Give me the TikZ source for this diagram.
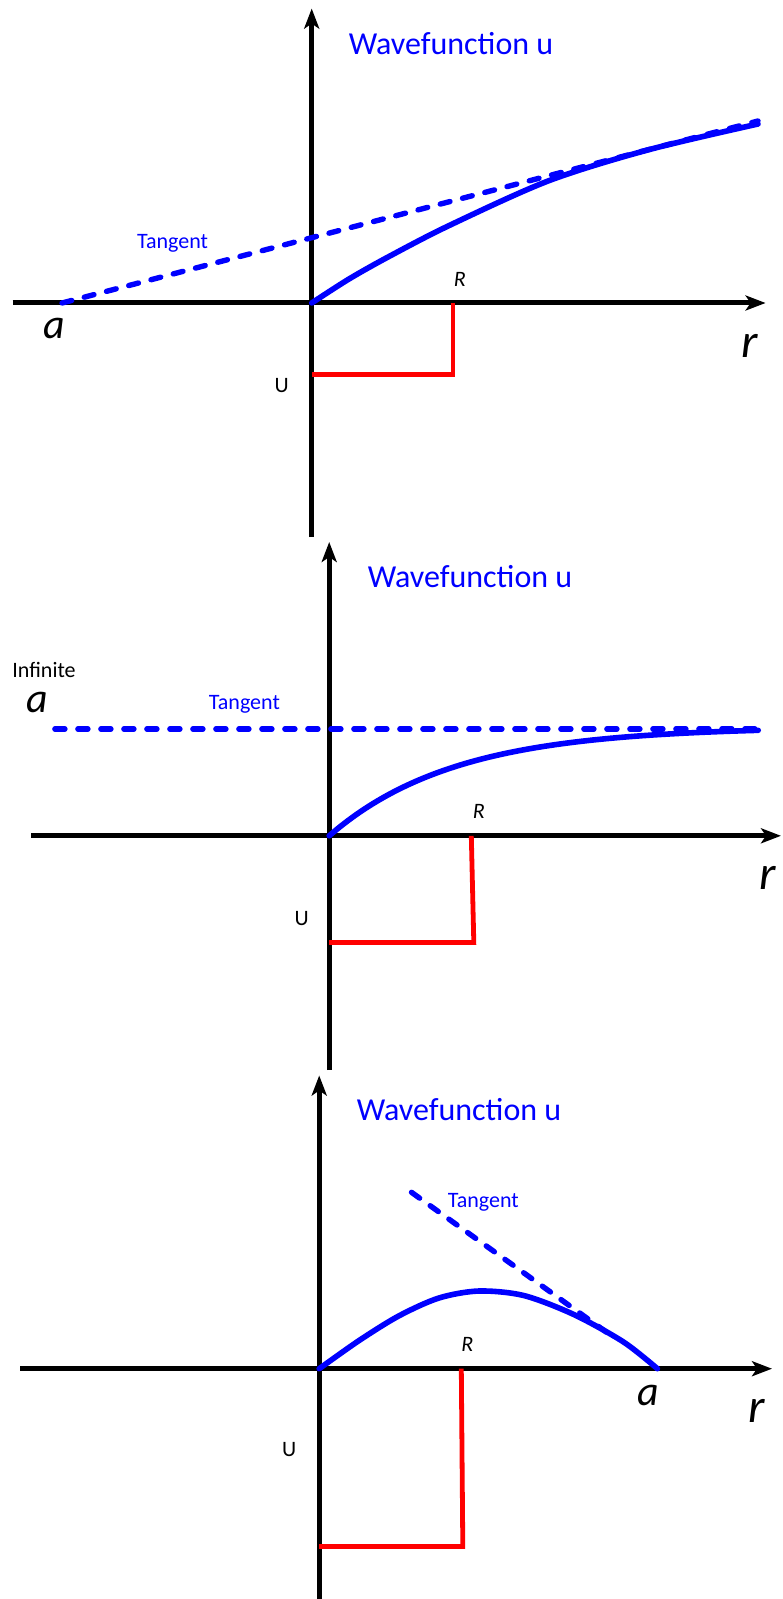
\documentclass[tikz,border=0pt]{standalone}
\usepackage{fontspec}
\setmainfont{Carlito}
\usetikzlibrary{arrows.meta}
\definecolor{ink}{gray}{0}
\definecolor{wf}{rgb}{0,0,1}
\definecolor{pot}{rgb}{1,0,0}

\begin{document}
\begin{tikzpicture}[x=0.5pt, y=-0.5pt, line width=2.4pt,
  axis/.style={ink, line width=2.5pt, -{Stealth[length=10pt,width=7.5pt,inset=2.5pt]}},
  wave/.style={wf, line width=2.8pt, line cap=round, line join=round},
  tanline/.style={wf, line width=2.7pt, line cap=round, dash pattern=on 5pt off 6.5pt},
  well/.style={pot, line width=2.4pt},
  title/.style={wf, inner sep=0pt, font=\fontsize{16}{18}\selectfont},
  small/.style={inner sep=0pt, font=\fontsize{11}{13}\selectfont},
  big/.style={ink, inner sep=0pt, font=\fontsize{21}{25}\selectfont\itshape}]
  \useasboundingbox (0,0) rectangle (782,1599);

  \foreach \n/\ox/\oy/\xl/\xr/\yt/\yb in {1/311.7/303/12.5/765.6/8.6/537, 2/329.2/835.8/31/781/542/1070, 3/319.2/1368.7/20/772/1075.5/1599}{
    \coordinate (o\n) at (\ox,\oy);
    \coordinate (xl\n) at (\xl,\oy);
    \coordinate (xr\n) at (\xr,\oy);
    \coordinate (yt\n) at (\ox,\yt);
    \coordinate (yb\n) at (\ox,\yb);
    \draw[axis] (xl\n) -- (xr\n);
    \draw[axis] (yb\n) -- (yt\n);
  }
  \foreach \n/\x/\y in {1/451/44, 2/470/576.5, 3/459/1109.8}
    \node[title] (wave\n) at (\x,\y) {Wavefunction u};

  % panel 1
  \coordinate (a1) at (62,303);
  \coordinate (t1) at (758,121);
  \draw[tanline] (a1) -- (t1);
  \draw[wave] plot[smooth] coordinates {(311.7,303) (349,279) (389,256.5) (449,225.6) (548.6,180.8) (648.4,149.8) (758,124)};
  \coordinate (rt1) at (452.9,303);
  \coordinate (rb1) at (452.9,374.7);
  \coordinate (ub1) at (311.7,374.7);
  \draw[well] (rt1) -- (rb1) -- (ub1);
  \node[small, wf] (tan1) at (172.6,243.5) {Tangent};
  \node[small, ink, font=\fontsize{11}{13}\selectfont\itshape] (R1) at (459.9,279) {R};
  \node[small, ink] (U1) at (281.8,385.7) {U};
  \node[big] (alab1) at (53.9,328.9) {a};
  \node[big, font=\fontsize{24}{28}\selectfont\itshape] (r1) at (749.6,346) {r};

  % panel 2
  \coordinate (a2) at (54.9,729);
  \coordinate (t2) at (758,729);
  \draw[tanline] (a2) -- (t2);
  \draw[wave] plot[domain=0:429, samples=80, smooth] ({329.2+\x},{835.8-109*(1-exp(-\x/125))});
  \coordinate (rt2) at (471.3,835.8);
  \coordinate (rb2) at (473.8,942.5);
  \coordinate (ub2) at (329.2,942.5);
  \draw[well] (rt2) -- (rb2) -- (ub2);
  \node[small, ink] (inf2) at (44,669.5) {Infinite};
  \node[small, wf] (tan2) at (244.4,704.6) {Tangent};
  \node[small, ink, font=\fontsize{11}{13}\selectfont\itshape] (R2) at (478.8,811.7) {R};
  \node[small, ink] (U2) at (301.7,918.4) {U};
  \node[big] (alab2) at (37.4,702) {a};
  \node[big, font=\fontsize{24}{28}\selectfont\itshape] (r2) at (768,877.8) {r};

  % panel 3
  \coordinate (a3) at (657.4,1368.7);
  \coordinate (t3) at (411.5,1192.3);
  \coordinate (te3) at (615,1338.3);
  \draw[tanline] (t3) -- (te3);
  \draw[wave] plot[smooth] coordinates {(319.2,1368.7) (359.1,1340.5) (399,1315.8) (438.9,1298) (478.8,1291) (523.7,1295.5) (573.6,1314.4) (623.4,1341.9) (657.4,1368.7)};
  \coordinate (rt3) at (461.3,1368.7);
  \coordinate (rb3) at (462.8,1546.4);
  \coordinate (ub3) at (319.2,1546.4);
  \draw[well] (rt3) -- (rb3) -- (ub3);
  \node[small, wf] (tan3) at (483.3,1202.7) {Tangent};
  \node[small, ink, font=\fontsize{11}{13}\selectfont\itshape] (R3) at (467.3,1344.6) {R};
  \node[small, ink] (U3) at (289.3,1450) {U};
  \node[big] (alab3) at (648.4,1395) {a};
  \node[big, font=\fontsize{24}{28}\selectfont\itshape] (r3) at (757,1410.6) {r};
\end{tikzpicture}
\end{document}
